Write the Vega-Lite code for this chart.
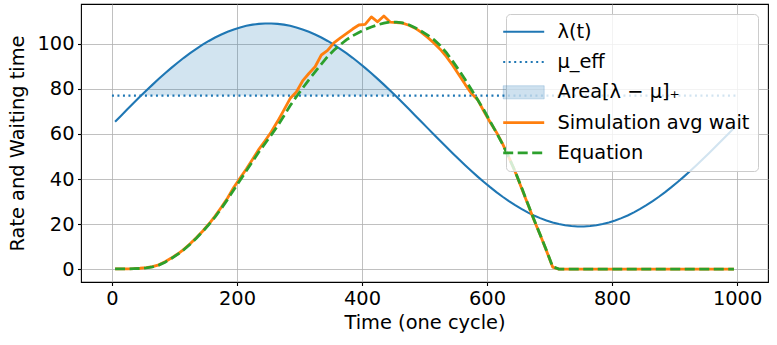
{
  "$schema": "https://vega.github.io/schema/vega-lite/v6.json",
  "width": 687,
  "height": 278,
  "autosize": "none",
  "padding": {"left": 81, "top": 4, "right": 9, "bottom": 63},
  "background": "white",
  "config": {
    "font": "DejaVu Sans",
    "view": {"stroke": "#000000", "strokeWidth": 1.1},
    "legend": {"fillColor": "rgba(255,255,255,0.8)", "strokeColor": "#cccccc", "cornerRadius": 4},
    "axis": {
      "domain": false,
      "grid": true,
      "gridColor": "#b0b0b0",
      "gridWidth": 0.8,
      "tickColor": "#000000",
      "tickSize": 3.5,
      "tickWidth": 1.1,
      "labelColor": "#000000",
      "labelFontSize": 19.4,
      "labelPadding": 3.5,
      "titleColor": "#000000",
      "titleFontSize": 19.4,
      "titleFontWeight": "normal"
    }
  },
  "datasets": {
    "main": [
      {"t": 5, "lam": 65.41, "sim": 0.2, "eq": 0.2},
      {"t": 15, "lam": 68.23, "sim": 0.2, "eq": 0.2},
      {"t": 25, "lam": 71.04, "sim": 0.2, "eq": 0.2},
      {"t": 35, "lam": 73.82, "sim": 0.3, "eq": 0.3},
      {"t": 45, "lam": 76.56, "sim": 0.5, "eq": 0.4},
      {"t": 55, "lam": 79.24, "sim": 0.8, "eq": 0.7},
      {"t": 65, "lam": 81.87, "sim": 1.2, "eq": 1.1},
      {"t": 75, "lam": 84.43, "sim": 2.0, "eq": 1.9},
      {"t": 85, "lam": 86.91, "sim": 3.4, "eq": 3.2},
      {"t": 95, "lam": 89.29, "sim": 5.0, "eq": 4.8},
      {"t": 105, "lam": 91.58, "sim": 6.8, "eq": 6.6},
      {"t": 115, "lam": 93.76, "sim": 8.9, "eq": 8.7},
      {"t": 125, "lam": 95.82, "sim": 11.3, "eq": 11.1},
      {"t": 135, "lam": 97.75, "sim": 14.0, "eq": 13.8},
      {"t": 145, "lam": 99.56, "sim": 16.9, "eq": 16.7},
      {"t": 155, "lam": 101.22, "sim": 20.1, "eq": 19.8},
      {"t": 165, "lam": 102.73, "sim": 23.6, "eq": 23.2},
      {"t": 175, "lam": 104.10, "sim": 27.5, "eq": 27.0},
      {"t": 185, "lam": 105.30, "sim": 31.6, "eq": 31.0},
      {"t": 195, "lam": 106.34, "sim": 36.4, "eq": 35.3},
      {"t": 205, "lam": 107.21, "sim": 40.5, "eq": 39.5},
      {"t": 215, "lam": 107.92, "sim": 44.5, "eq": 43.7},
      {"t": 225, "lam": 108.45, "sim": 48.8, "eq": 47.8},
      {"t": 235, "lam": 108.80, "sim": 53.2, "eq": 52.0},
      {"t": 245, "lam": 108.98, "sim": 57.0, "eq": 55.8},
      {"t": 255, "lam": 108.98, "sim": 61.0, "eq": 59.6},
      {"t": 265, "lam": 108.80, "sim": 65.6, "eq": 63.6},
      {"t": 275, "lam": 108.45, "sim": 70.6, "eq": 68.0},
      {"t": 285, "lam": 107.92, "sim": 75.7, "eq": 72.5},
      {"t": 295, "lam": 107.21, "sim": 78.6, "eq": 76.5},
      {"t": 305, "lam": 106.34, "sim": 83.5, "eq": 80.3},
      {"t": 315, "lam": 105.30, "sim": 86.8, "eq": 84.0},
      {"t": 325, "lam": 104.10, "sim": 89.8, "eq": 87.5},
      {"t": 335, "lam": 102.73, "sim": 95.0, "eq": 91.0},
      {"t": 345, "lam": 101.22, "sim": 97.0, "eq": 94.3},
      {"t": 355, "lam": 99.56, "sim": 100.4, "eq": 97.1},
      {"t": 365, "lam": 97.75, "sim": 102.5, "eq": 99.5},
      {"t": 375, "lam": 95.82, "sim": 104.5, "eq": 101.7},
      {"t": 385, "lam": 93.76, "sim": 106.5, "eq": 103.5},
      {"t": 395, "lam": 91.58, "sim": 108.3, "eq": 105.0},
      {"t": 405, "lam": 89.29, "sim": 108.6, "eq": 106.3},
      {"t": 415, "lam": 86.91, "sim": 111.9, "eq": 107.4},
      {"t": 425, "lam": 84.43, "sim": 109.7, "eq": 108.4},
      {"t": 435, "lam": 81.87, "sim": 112.3, "eq": 109.1},
      {"t": 445, "lam": 79.24, "sim": 109.6, "eq": 109.6},
      {"t": 455, "lam": 76.56, "sim": 109.4, "eq": 109.6},
      {"t": 465, "lam": 73.82, "sim": 109.1, "eq": 109.2},
      {"t": 475, "lam": 71.04, "sim": 108.2, "eq": 108.4},
      {"t": 485, "lam": 68.23, "sim": 106.9, "eq": 107.1},
      {"t": 495, "lam": 65.41, "sim": 105.0, "eq": 105.5},
      {"t": 505, "lam": 62.59, "sim": 102.8, "eq": 103.8},
      {"t": 515, "lam": 59.77, "sim": 100.3, "eq": 101.8},
      {"t": 525, "lam": 56.96, "sim": 97.6, "eq": 99.2},
      {"t": 535, "lam": 54.18, "sim": 94.3, "eq": 96.0},
      {"t": 545, "lam": 51.44, "sim": 90.5, "eq": 92.3},
      {"t": 555, "lam": 48.76, "sim": 86.2, "eq": 88.3},
      {"t": 565, "lam": 46.13, "sim": 82.0, "eq": 84.1},
      {"t": 575, "lam": 43.57, "sim": 78.0, "eq": 79.7},
      {"t": 585, "lam": 41.09, "sim": 75.2, "eq": 75.2},
      {"t": 595, "lam": 38.71, "sim": 70.0, "eq": 70.6},
      {"t": 605, "lam": 36.42, "sim": 65.2, "eq": 65.6},
      {"t": 615, "lam": 34.24, "sim": 60.8, "eq": 60.6},
      {"t": 625, "lam": 32.18, "sim": 55.6, "eq": 55.4},
      {"t": 635, "lam": 30.25, "sim": 49.6, "eq": 49.6},
      {"t": 645, "lam": 28.44, "sim": 43.3, "eq": 43.4},
      {"t": 655, "lam": 26.78, "sim": 36.2, "eq": 36.5},
      {"t": 665, "lam": 25.27, "sim": 29.1, "eq": 29.3},
      {"t": 675, "lam": 23.90, "sim": 22.0, "eq": 22.2},
      {"t": 685, "lam": 22.70, "sim": 15.3, "eq": 15.4},
      {"t": 695, "lam": 21.66, "sim": 8.3, "eq": 8.5},
      {"t": 705, "lam": 20.79, "sim": 1.0, "eq": 1.2},
      {"t": 715, "lam": 20.08, "sim": 0.1, "eq": 0.1},
      {"t": 725, "lam": 19.55, "sim": 0.1, "eq": 0.1},
      {"t": 735, "lam": 19.20, "sim": 0.1, "eq": 0.1},
      {"t": 745, "lam": 19.02, "sim": 0.1, "eq": 0.1},
      {"t": 755, "lam": 19.02, "sim": 0.1, "eq": 0.1},
      {"t": 765, "lam": 19.20, "sim": 0.1, "eq": 0.1},
      {"t": 775, "lam": 19.55, "sim": 0.1, "eq": 0.1},
      {"t": 785, "lam": 20.08, "sim": 0.1, "eq": 0.1},
      {"t": 795, "lam": 20.79, "sim": 0.1, "eq": 0.1},
      {"t": 805, "lam": 21.66, "sim": 0.1, "eq": 0.1},
      {"t": 815, "lam": 22.70, "sim": 0.1, "eq": 0.1},
      {"t": 825, "lam": 23.90, "sim": 0.1, "eq": 0.1},
      {"t": 835, "lam": 25.27, "sim": 0.1, "eq": 0.1},
      {"t": 845, "lam": 26.78, "sim": 0.1, "eq": 0.1},
      {"t": 855, "lam": 28.44, "sim": 0.1, "eq": 0.1},
      {"t": 865, "lam": 30.25, "sim": 0.1, "eq": 0.1},
      {"t": 875, "lam": 32.18, "sim": 0.1, "eq": 0.1},
      {"t": 885, "lam": 34.24, "sim": 0.1, "eq": 0.1},
      {"t": 895, "lam": 36.42, "sim": 0.1, "eq": 0.1},
      {"t": 905, "lam": 38.71, "sim": 0.1, "eq": 0.1},
      {"t": 915, "lam": 41.09, "sim": 0.1, "eq": 0.1},
      {"t": 925, "lam": 43.57, "sim": 0.1, "eq": 0.1},
      {"t": 935, "lam": 46.13, "sim": 0.1, "eq": 0.1},
      {"t": 945, "lam": 48.76, "sim": 0.1, "eq": 0.1},
      {"t": 955, "lam": 51.44, "sim": 0.1, "eq": 0.1},
      {"t": 965, "lam": 54.18, "sim": 0.1, "eq": 0.1},
      {"t": 975, "lam": 56.96, "sim": 0.1, "eq": 0.1},
      {"t": 985, "lam": 59.77, "sim": 0.1, "eq": 0.1},
      {"t": 995, "lam": 62.59, "sim": 0.1, "eq": 0.1}
    ],
    "area": [
      {"t": 46.6, "lo": 77, "hi": 77},
      {"t": 55, "lo": 77, "hi": 79.24},
      {"t": 65, "lo": 77, "hi": 81.87},
      {"t": 75, "lo": 77, "hi": 84.43},
      {"t": 85, "lo": 77, "hi": 86.91},
      {"t": 95, "lo": 77, "hi": 89.29},
      {"t": 105, "lo": 77, "hi": 91.58},
      {"t": 115, "lo": 77, "hi": 93.76},
      {"t": 125, "lo": 77, "hi": 95.82},
      {"t": 135, "lo": 77, "hi": 97.75},
      {"t": 145, "lo": 77, "hi": 99.56},
      {"t": 155, "lo": 77, "hi": 101.22},
      {"t": 165, "lo": 77, "hi": 102.73},
      {"t": 175, "lo": 77, "hi": 104.10},
      {"t": 185, "lo": 77, "hi": 105.30},
      {"t": 195, "lo": 77, "hi": 106.34},
      {"t": 205, "lo": 77, "hi": 107.21},
      {"t": 215, "lo": 77, "hi": 107.92},
      {"t": 225, "lo": 77, "hi": 108.45},
      {"t": 235, "lo": 77, "hi": 108.80},
      {"t": 245, "lo": 77, "hi": 108.98},
      {"t": 255, "lo": 77, "hi": 108.98},
      {"t": 265, "lo": 77, "hi": 108.80},
      {"t": 275, "lo": 77, "hi": 108.45},
      {"t": 285, "lo": 77, "hi": 107.92},
      {"t": 295, "lo": 77, "hi": 107.21},
      {"t": 305, "lo": 77, "hi": 106.34},
      {"t": 315, "lo": 77, "hi": 105.30},
      {"t": 325, "lo": 77, "hi": 104.10},
      {"t": 335, "lo": 77, "hi": 102.73},
      {"t": 345, "lo": 77, "hi": 101.22},
      {"t": 355, "lo": 77, "hi": 99.56},
      {"t": 365, "lo": 77, "hi": 97.75},
      {"t": 375, "lo": 77, "hi": 95.82},
      {"t": 385, "lo": 77, "hi": 93.76},
      {"t": 395, "lo": 77, "hi": 91.58},
      {"t": 405, "lo": 77, "hi": 89.29},
      {"t": 415, "lo": 77, "hi": 86.91},
      {"t": 425, "lo": 77, "hi": 84.43},
      {"t": 435, "lo": 77, "hi": 81.87},
      {"t": 445, "lo": 77, "hi": 79.24},
      {"t": 453.4, "lo": 77, "hi": 77}
    ],
    "mu": [
      {"t": 0, "v": 77},
      {"t": 1000, "v": 77}
    ]
  },
  "layer": [
    {
      "data": {"name": "area"},
      "mark": {"type": "area", "color": "#1f77b4", "opacity": 0.2},
      "encoding": {
        "x": {
          "field": "t", "type": "quantitative",
          "scale": {"domain": [-49.5, 1049.5], "nice": false, "zero": false},
          "axis": {"values": [0, 200, 400, 600, 800, 1000], "format": "d", "title": "Time (one cycle)", "titlePadding": 6}
        },
        "y": {
          "field": "hi", "type": "quantitative",
          "scale": {"domain": [-5.6, 117.6], "nice": false, "zero": false},
          "axis": {"values": [0, 20, 40, 60, 80, 100], "title": "Rate and Waiting time", "titlePadding": 9}
        },
        "y2": {"field": "lo"}
      }
    },
    {
      "data": {"name": "main"},
      "mark": {"type": "line", "strokeWidth": 2.1},
      "encoding": {
        "x": {"field": "t", "type": "quantitative"},
        "y": {"field": "lam", "type": "quantitative"},
        "color": {
          "datum": "λ(t)",
          "type": "nominal",
          "scale": {
            "domain": ["λ(t)", "μ_eff", "Area[λ − μ]₊", "Simulation avg wait", "Equation"],
            "range": ["#1f77b4", "#1f77b4", "#1f77b4", "#ff7f0e", "#2ca02c"]
          },
          "legend": {
            "title": null,
            "orient": "top-right",
            "offset": 10,
            "zindex": 1,
            "symbolType": "stroke",
            "symbolSize": 1681,
            "symbolStrokeWidth": 2.1,
            "labelFontSize": 19.4,
            "labelColor": "#000000",
            "labelLimit": 400,
            "labelOffset": 24,
            "rowPadding": 9.3,
            "padding": 8,
            "fillColor": "rgba(255,255,255,0.8)",
            "strokeColor": "#cccccc",
            "cornerRadius": 4,
            "encode": {
              "legend": {
                "update": {
                  "fill": {"value": "#ffffff"},
                  "fillOpacity": {"value": 0.8},
                  "stroke": {"value": "#cccccc"},
                  "strokeWidth": {"value": 1},
                  "cornerRadius": {"value": 4}
                }
              },
              "symbols": {
                "update": {
                  "shape": {"signal": "datum.value === 'Area[λ − μ]₊' ? 'M-1,-0.32L1,-0.32L1,0.32L-1,0.32Z' : 'stroke'"},
                  "fill": {"signal": "datum.value === 'Area[λ − μ]₊' ? 'rgba(31,119,180,0.22)' : 'transparent'"},
                  "strokeWidth": {"signal": "datum.value === 'Area[λ − μ]₊' ? 1 : (datum.value === 'Simulation avg wait' || datum.value === 'Equation' ? 2.8 : 2.1)"},
                  "strokeOpacity": {"signal": "datum.value === 'Area[λ − μ]₊' ? 0.22 : 1"},
                  "strokeDash": {"signal": "datum.value === 'μ_eff' ? [2, 3.5] : (datum.value === 'Equation' ? [10, 4.5] : [1, 0])"},
                  "strokeCap": {"value": "butt"}
                }
              }
            }
          }
        }
      }
    },
    {
      "data": {"name": "mu"},
      "mark": {"type": "line", "strokeWidth": 2.1, "strokeDash": [2, 3.5]},
      "encoding": {
        "x": {"field": "t", "type": "quantitative"},
        "y": {"field": "v", "type": "quantitative"},
        "color": {"datum": "μ_eff", "type": "nominal"}
      }
    },
    {
      "data": {"name": "main"},
      "mark": {"type": "line", "strokeWidth": 2.8, "strokeJoin": "round"},
      "encoding": {
        "x": {"field": "t", "type": "quantitative"},
        "y": {"field": "sim", "type": "quantitative"},
        "color": {"datum": "Simulation avg wait", "type": "nominal"}
      }
    },
    {
      "data": {"name": "main"},
      "mark": {"type": "line", "strokeWidth": 2.8, "strokeDash": [10, 4.5]},
      "encoding": {
        "x": {"field": "t", "type": "quantitative"},
        "y": {"field": "eq", "type": "quantitative"},
        "color": {"datum": "Equation", "type": "nominal"}
      }
    }
  ]
}
